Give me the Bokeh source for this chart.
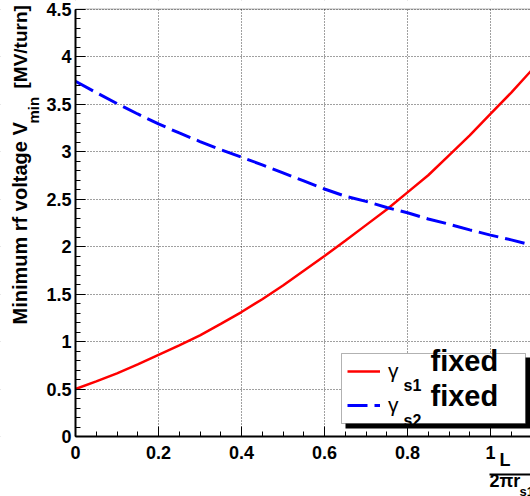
import math
from bokeh.plotting import figure
from bokeh.models import Range1d, FixedTicker, Label, BoxAnnotation, Legend, LegendItem
from bokeh.embed import file_html
from bokeh.resources import INLINE

# ---- data ----
x_vals = [0.00, 0.05, 0.10, 0.15, 0.20, 0.25, 0.30, 0.35, 0.40, 0.45, 0.50,
          0.55, 0.60, 0.65, 0.70, 0.75, 0.80, 0.85, 0.90, 0.95, 1.00, 1.05, 1.10]
gamma_s1_fixed = [0.500, 0.580, 0.665, 0.760, 0.860, 0.960, 1.065, 1.185, 1.310, 1.445, 1.590,
                  1.745, 1.900, 2.060, 2.225, 2.390, 2.570, 2.750, 2.960, 3.170, 3.397, 3.620, 3.860]
gamma_s2_fixed = [3.740, 3.620, 3.505, 3.395, 3.290, 3.195, 3.105, 3.020, 2.940, 2.860, 2.775,
                  2.690, 2.605, 2.530, 2.475, 2.410, 2.355, 2.290, 2.235, 2.175, 2.120, 2.070, 2.015]

x_ticks = [0, 0.2, 0.4, 0.6, 0.8, 1.0]
x_tick_labels = ["0", "0.2", "0.4", "0.6", "0.8", "1"]
y_ticks = [0, 0.5, 1.0, 1.5, 2.0, 2.5, 3.0, 3.5, 4.0, 4.5]
y_tick_labels = ["0", "0.5", "1", "1.5", "2", "2.5", "3", "3.5", "4", "4.5"]
Y_MAX = 4.5

# ---- layout (pixels) ----
W, H = 530, 496
X0_PX, Y0_PX = 75, 436          # canvas position of data origin
PX_PER_X, PX_PER_Y = 415.0, 95.0
x_start, x_end = -X0_PX / PX_PER_X, (W - X0_PX) / PX_PER_X
y_start, y_end = -(H - Y0_PX) / PX_PER_Y, Y0_PX / PX_PER_Y
BASE_SHIFT = 0.405  # label anchor -> glyph baseline offset (fraction of font size)

FONT = "Liberation Sans"

p = figure(width=W, height=H, title=None,
           x_range=Range1d(x_start, x_end), y_range=Range1d(y_start, y_end),
           output_backend="svg", toolbar_location=None,
           min_border_left=0, min_border_right=0, min_border_top=0, min_border_bottom=0)

p.background_fill_color = "white"
p.border_fill_color = "white"
p.outline_line_color = None

# axes drawn at the data origin inside the (full-canvas) frame
p.xaxis.fixed_location = 0
p.yaxis.fixed_location = 0
p.xaxis.bounds = (0, x_end)
p.yaxis.bounds = (0, Y_MAX)
p.xaxis.ticker = FixedTicker(ticks=x_ticks, minor_ticks=[round(0.05 * i, 2) for i in range(23)])
p.yaxis.ticker = FixedTicker(ticks=y_ticks, minor_ticks=[round(0.1 * i, 1) for i in range(46)])
p.xaxis.major_label_overrides = {t: s for t, s in zip(x_ticks, x_tick_labels)}
p.yaxis.major_label_overrides = {t: s for t, s in zip(y_ticks, y_tick_labels)}
for ax in (p.xaxis, p.yaxis):
    ax.major_label_text_font = FONT
    ax.major_label_text_font_style = "bold"
    ax.major_label_text_font_size = "18px"
    ax.major_label_text_color = "black"
    ax.axis_line_width = 2
    ax.axis_line_color = "black"
    ax.major_tick_in = 10
    ax.major_tick_out = 0
    ax.minor_tick_in = 5
    ax.minor_tick_out = 0
    ax.major_tick_line_color = "black"
    ax.minor_tick_line_color = "black"
p.yaxis.major_label_standoff = 4
p.xaxis.major_label_standoff = 9

p.grid.grid_line_color = "black"
p.grid.grid_line_dash = "1 2"
p.grid.grid_line_alpha = 0.75
p.grid.grid_line_width = 1

# white masks so the grid stays inside the data frame
for l, r, b, t in [(x_start - 1, 0, y_start - 1, y_end + 1),
                   (x_start - 1, x_end + 1, y_start - 1, 0),
                   (x_start - 1, x_end + 1, Y_MAX, y_end + 1)]:
    p.add_layout(BoxAnnotation(left=l, right=r, bottom=b, top=t, fill_color="white",
                               fill_alpha=1, line_alpha=0, level="underlay"))

# frame border (top edge)
p.add_layout(BoxAnnotation(left=0, right=x_end + 1, bottom=0, top=Y_MAX, fill_alpha=0,
                           line_color="black", line_width=1))

# curves
r_red = p.line(x_vals, gamma_s1_fixed, line_color="#ff0000", line_width=2.5)
r_blue = p.line(x_vals, gamma_s2_fixed, line_color="#0000ff", line_width=3, line_dash="20 7")

def sbox(left, right, top, bottom, **kw):
    return BoxAnnotation(left=left, right=right, top=H - top, bottom=H - bottom,
                         left_units="screen", right_units="screen",
                         top_units="screen", bottom_units="screen", **kw)

# legend box with shadow (canvas pixel positions)
p.add_layout(sbox(345, 529.5, 357, 428, fill_color="black", fill_alpha=1, line_alpha=0))
p.add_layout(sbox(341, 525, 353, 423, fill_color="white", fill_alpha=1,
                  line_color="black", line_width=1))

legend = Legend(items=[LegendItem(label="γ", renderers=[r_red]),
                       LegendItem(label="γ", renderers=[r_blue])],
                location=(347, H - 419), padding=0, margin=0, spacing=6,
                glyph_width=33, glyph_height=28, label_height=28, label_standoff=8,
                border_line_alpha=0, background_fill_alpha=0,
                label_text_font=FONT, label_text_font_size="21px", label_text_color="black")
p.add_layout(legend)

def lab(text, px, py, size_px, bold=True, rotated=False):
    """px, py: canvas pixel position of the glyph baseline start."""
    shift = BASE_SHIFT * size_px
    if rotated:
        x, y, angle = px - shift, H - py, math.pi / 2
    else:
        x, y, angle = px, H - (py - shift), 0.0
    p.add_layout(Label(text=text, x=x, y=y, x_units="screen", y_units="screen",
                       text_font=FONT, text_font_size=f"{size_px}px",
                       text_font_style="bold" if bold else "normal",
                       text_color="black", text_align="left", text_baseline="alphabetic",
                       angle=angle))

# legend texts
lab("s1", 403, 391, 16)
lab("fixed", 430, 372, 29)
lab("s2", 403, 426, 16)
lab("fixed", 430, 407, 29)

# y-axis title (rotated)
lab("Minimum rf voltage V", 28, 324, 20, rotated=True)
lab("min", 39, 123, 15, rotated=True)
lab("[MV/turn]", 28, 88, 19, rotated=True)

# x-axis title as a fraction L / (2πr_s1)
lab("L", 499, 467, 18)
p.add_layout(sbox(489, 545, 473, 475, fill_color="black", fill_alpha=1, line_alpha=0))
lab("2πr", 489, 488, 18)
lab("s1", 519, 496, 13)

open("out.html", "w").write(file_html(p, INLINE))
